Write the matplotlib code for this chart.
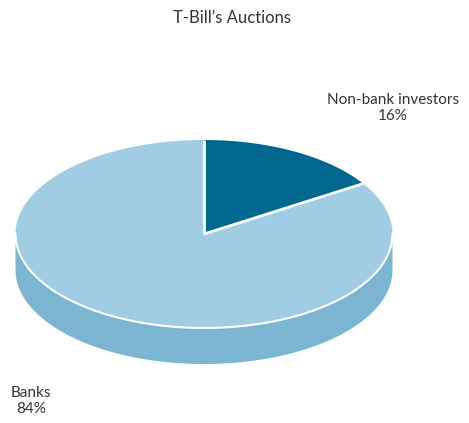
import numpy as np
import matplotlib.pyplot as plt
from matplotlib.patches import Polygon

plt.rcParams['font.family'] = ['Lato', 'DejaVu Sans']

title = "T-Bill\u2019s Auctions"
labels = ["Non-bank investors", "Banks"]
shares = [16, 84]
top_colors = ["#00688f", "#a0cde3"]
side_colors = ["#005a7c", "#7bb5d2"]

# pie geometry in pixel units
cx, cy = 204, 234
rx, ry = 188.5, 94
depth = 36


def ell(t):
    return cx + rx * np.cos(t), cy - ry * np.sin(t)


fig = plt.figure(figsize=(4.69, 4.23), dpi=100)
ax = fig.add_axes([0, 0, 1, 1])
ax.set_xlim(0, 469)
ax.set_ylim(423, 0)
ax.axis('off')

fracs = np.array(shares) / sum(shares)
starts = np.pi / 2 - 2 * np.pi * np.concatenate([[0], np.cumsum(fracs)[:-1]])
ends = starts - 2 * np.pi * fracs

# side walls (only the front half of the rim is visible)
for s, e, col in zip(starts, ends, side_colors):
    lo, hi = e, s
    seg = []
    for k in range(-1, 2):
        a = max(lo, np.pi + 2 * np.pi * k)
        b = min(hi, 2 * np.pi + 2 * np.pi * k)
        if b > a:
            seg.append((a, b))
    for a, b in seg:
        t = np.linspace(a, b, 200)
        x, y = ell(t)
        pts = np.column_stack([np.concatenate([x, x[::-1]]),
                               np.concatenate([y, y[::-1] + depth])])
        ax.add_patch(Polygon(pts, closed=True, fc=col, ec='none'))

# top faces
for s, e, col in zip(starts, ends, top_colors):
    t = np.linspace(s, e, 300)
    x, y = ell(t)
    pts = np.column_stack([np.concatenate([[cx], x]), np.concatenate([[cy], y])])
    ax.add_patch(Polygon(pts, closed=True, fc=col, ec='none'))

# white slice separators and rim
for s in starts:
    x, y = ell(s)
    ax.plot([cx, x], [cy, y], color='white', lw=2, solid_capstyle='butt')
t = np.linspace(np.pi, 2 * np.pi, 200)
x, y = ell(t)
ax.plot(x, y, color='white', lw=1.5)

ax.text(232, 18, title, ha='center', va='center', fontsize=12, color='#333333')
ax.text(393, 108, f"{labels[0]}\n{shares[0]}%", ha='center', va='center',
        fontsize=11, color='#333333', linespacing=1.1)
ax.text(31, 401, f"{labels[1]}\n{shares[1]}%", ha='center', va='center',
        fontsize=11, color='#333333', linespacing=1.1)

fig.savefig('out.png', dpi=100)
